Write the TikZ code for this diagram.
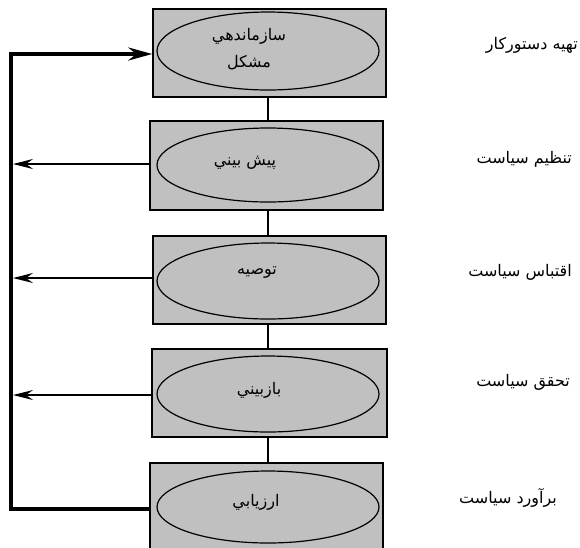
\documentclass[tikz,border=0pt]{standalone}
\usepackage{fontspec}
\newfontfamily\arabicfont[Script=Arabic]{DejaVu Sans}
\TeXXeTstate=1
\usetikzlibrary{shapes.geometric,arrows.meta}
\definecolor{boxgrey}{HTML}{C0C0C0}
\begin{document}
\begin{tikzpicture}[x=1pt,y=-1pt,
  box/.style={draw, line width=1.4pt, fill=boxgrey, minimum width=233pt, minimum height=88pt, inner sep=0pt},
  oval/.style={ellipse, draw, line width=1.2pt, fill=boxgrey, minimum width=222pt, minimum height=74pt, inner sep=0pt},
  txt/.style={font=\arabicfont\fontsize{16}{27}\selectfont, inner sep=0pt},
  link/.style={line width=1.2pt},
  back/.style={line width=1.2pt, -{Stealth[length=20pt,width=10pt,inset=7pt]}},
  loopline/.style={line width=3.8pt, -{Stealth[length=24pt,width=13pt,inset=8pt]}},
]
\clip (0,0) rectangle (580,547);
\fill[white] (0,0) rectangle (580,547);
% boxes
\node[box, minimum width=233pt] (b1) at (269.5,53) {};
\node[box, minimum width=233pt, minimum height=89pt] (b2) at (266.5,165.5) {};
\node[box, minimum width=233pt] (b3) at (269.5,280) {};
\node[box, minimum width=235pt] (b4) at (269.5,393) {};
\node[box, minimum width=233pt] (b5) at (266.5,507) {};
% ellipses
\node[oval, minimum height=78pt] (e1) at (268,51) {};
\node[oval] (e2) at (268,165) {};
\node[oval, minimum height=76pt] (e3) at (268,281) {};
\node[oval, minimum height=76pt] (e4) at (268,394) {};
\node[oval, minimum height=72pt] (e5) at (268,507) {};
% ellipse texts
\node[txt, align=center] (t1) at (249,49) {\beginR سازماندهي\endR\\\beginR مشکل\endR};
\node[txt] (t2) at (245,163) {\beginR پيش بيني\endR};
\node[txt] (t3) at (257,273) {\beginR توصيه\endR};
\node[txt] (t4) at (259,390) {\beginR بازبيني\endR};
\node[txt] (t5) at (256,502) {\beginR ارزيابي\endR};
% right labels
\node[txt, anchor=east] (l1) at (578,45) {\beginR تهيه دستورکار\endR};
\node[txt, anchor=east] (l2) at (572,159) {\beginR تنظيم سياست\endR};
\node[txt, anchor=east] (l3) at (572,272) {\beginR اقتباس سياست\endR};
\node[txt, anchor=east] (l4) at (570,382) {\beginR تحقق سياست\endR};
\node[txt, anchor=east] (l5) at (557,498) {\beginR برآورد سياست\endR};
% vertical links
\draw[link] (b1.south -| e2.center) -- (b2.north -| e2.center);
\draw[link] (b2.south -| e2.center) -- (b3.north -| e2.center);
\draw[link] (b3.south -| e2.center) -- (b4.north -| e2.center);
\draw[link] (b4.south -| e2.center) -- (b5.north -| e2.center);
% feedback rail
\coordinate (rt) at (11,54);
\coordinate (rb) at (11,509);
\draw[loopline] (b5.west |- rb) -- (rb) -- (rt) -- (b1.west |- rt);
\coordinate (a2) at (13,164);
\coordinate (a3) at (13,278);
\coordinate (a4) at (13,395);
\draw[back] (b2.west |- a2) -- (a2);
\draw[back] (b3.west |- a3) -- (a3);
\draw[back] (b4.west |- a4) -- (a4);
\end{tikzpicture}
\end{document}
